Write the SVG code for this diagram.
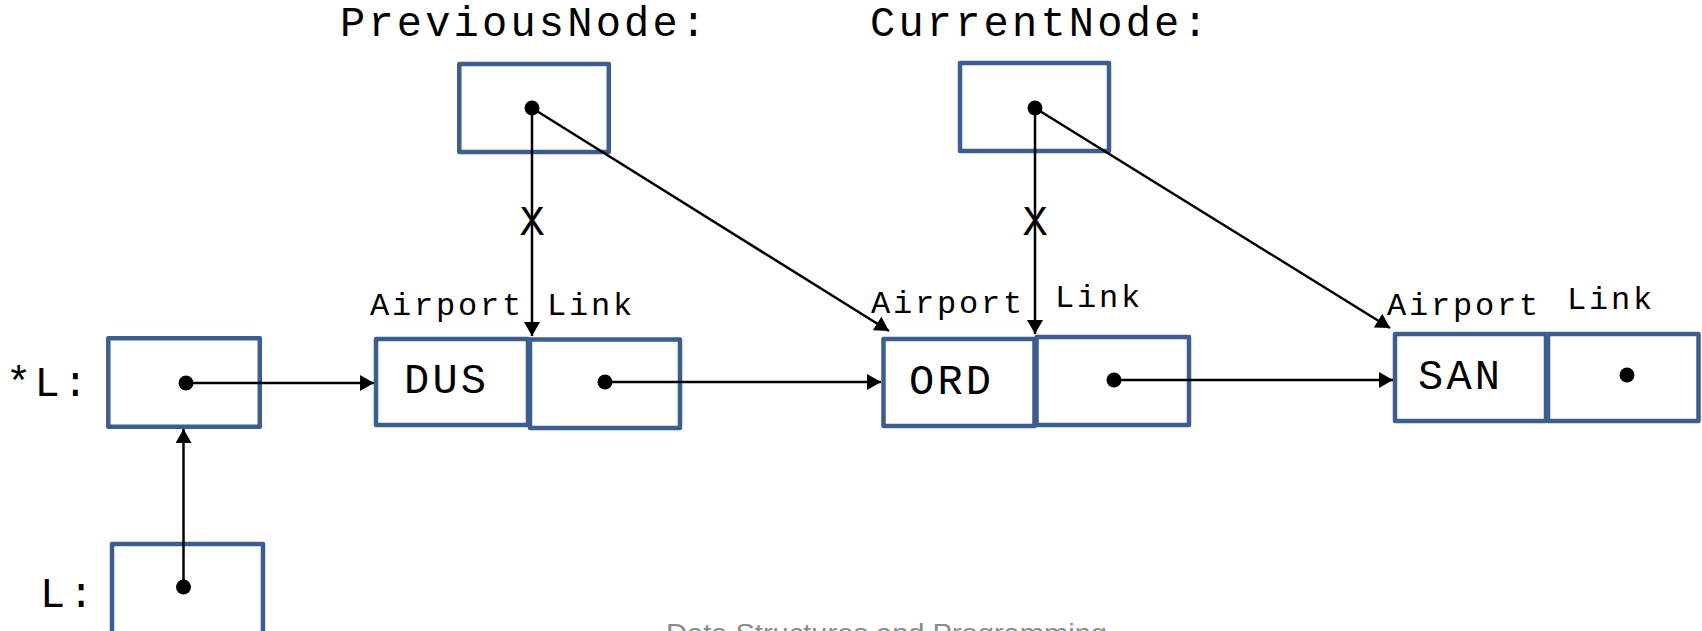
<svg xmlns="http://www.w3.org/2000/svg" width="1702" height="631" viewBox="0 0 1702 631">
<defs>
<style>
.box{fill:#ffffff;stroke:#3B5E8D;stroke-width:4.5;stroke-linejoin:round}
.ln{stroke:#000;stroke-width:2.5;fill:none}
.dot{fill:#000}
.big{font-family:"Liberation Mono","DejaVu Sans Mono",monospace;font-size:42px;letter-spacing:3.2px;fill:#000}
.lab{font-family:"Liberation Mono","DejaVu Sans Mono",monospace;font-size:32px;letter-spacing:2.8px;fill:#000}
.foot{font-family:"Liberation Sans",Arial,sans-serif;font-size:26px;fill:#8a8a8a}
</style>
<marker id="ah" markerUnits="userSpaceOnUse" markerWidth="16" markerHeight="16" viewBox="0 0 14 16" refX="14" refY="8" orient="auto">
<path d="M0,0 L14,8 L0,16 Z" fill="#000"/>
</marker>
</defs>
<rect width="1702" height="631" fill="#ffffff"/>

<g id="header-prev"><text class="big" x="340" y="36">PreviousNode:</text></g>
<g id="header-curr"><text class="big" x="870" y="36">CurrentNode:</text></g>

<g id="node-prev">
<rect class="box" x="459.3" y="64" width="149.5" height="88"/>
<circle class="dot" cx="532" cy="108" r="7.5"/>
</g>
<g id="node-curr">
<rect class="box" x="960" y="63" width="149" height="88"/>
<circle class="dot" cx="1035" cy="108" r="7.5"/>
</g>

<g id="node-starL">
<text class="big" x="6" y="396">*L:</text>
<rect class="box" x="108.3" y="338.3" width="151.5" height="88.5"/>
<circle class="dot" cx="186" cy="383" r="7.5"/>
</g>

<g id="node-L">
<text class="big" x="40" y="607">L:</text>
<rect class="box" x="112" y="544" width="151" height="120"/>
<circle class="dot" cx="183.5" cy="587" r="7.5"/>
</g>

<g id="node-DUS">
<text class="lab" x="370" y="315">Airport</text>
<text class="lab" x="547" y="315">Link</text>
<rect class="box" x="376" y="339" width="152" height="86"/>
<rect class="box" x="530" y="339.5" width="150" height="88.5"/>
<text class="big" x="404" y="393">DUS</text>
<circle class="dot" cx="605" cy="382" r="7.5"/>
</g>

<g id="node-ORD">
<text class="lab" x="871" y="313">Airport</text>
<text class="lab" x="1055" y="307">Link</text>
<rect class="box" x="883.5" y="339" width="151" height="87"/>
<rect class="box" x="1036.5" y="337" width="152.5" height="88"/>
<text class="big" x="909" y="394">ORD</text>
<circle class="dot" cx="1114" cy="380" r="7.5"/>
</g>

<g id="node-SAN">
<text class="lab" x="1387" y="315">Airport</text>
<text class="lab" x="1567" y="309">Link</text>
<rect class="box" x="1395" y="334" width="151" height="87"/>
<rect class="box" x="1548" y="334" width="150.5" height="87"/>
<text class="big" x="1418" y="389">SAN</text>
<circle class="dot" cx="1627" cy="375" r="7.5"/>
</g>

<g id="connectors">
<line class="ln" x1="183.5" y1="587" x2="183.5" y2="429" marker-end="url(#ah)"/>
<line class="ln" x1="186" y1="383" x2="374" y2="383" marker-end="url(#ah)"/>
<line class="ln" x1="605" y1="382" x2="881" y2="382" marker-end="url(#ah)"/>
<line class="ln" x1="1114" y1="380" x2="1393" y2="380" marker-end="url(#ah)"/>
<line class="ln" x1="532" y1="108" x2="532" y2="336" marker-end="url(#ah)"/>
<line class="ln" x1="1035" y1="108" x2="1035" y2="334" marker-end="url(#ah)"/>
<line class="ln" x1="532" y1="108" x2="889" y2="331" marker-end="url(#ah)"/>
<line class="ln" x1="1035" y1="108" x2="1390" y2="328" marker-end="url(#ah)"/>
<text class="big" x="532" y="235" text-anchor="middle" style="letter-spacing:0">X</text>
<text class="big" x="1035" y="235" text-anchor="middle" style="letter-spacing:0">X</text>
</g>

<g id="footer"><text class="foot" x="666" y="642" textLength="441" lengthAdjust="spacingAndGlyphs">Data Structures and Programming</text></g>
</svg>
